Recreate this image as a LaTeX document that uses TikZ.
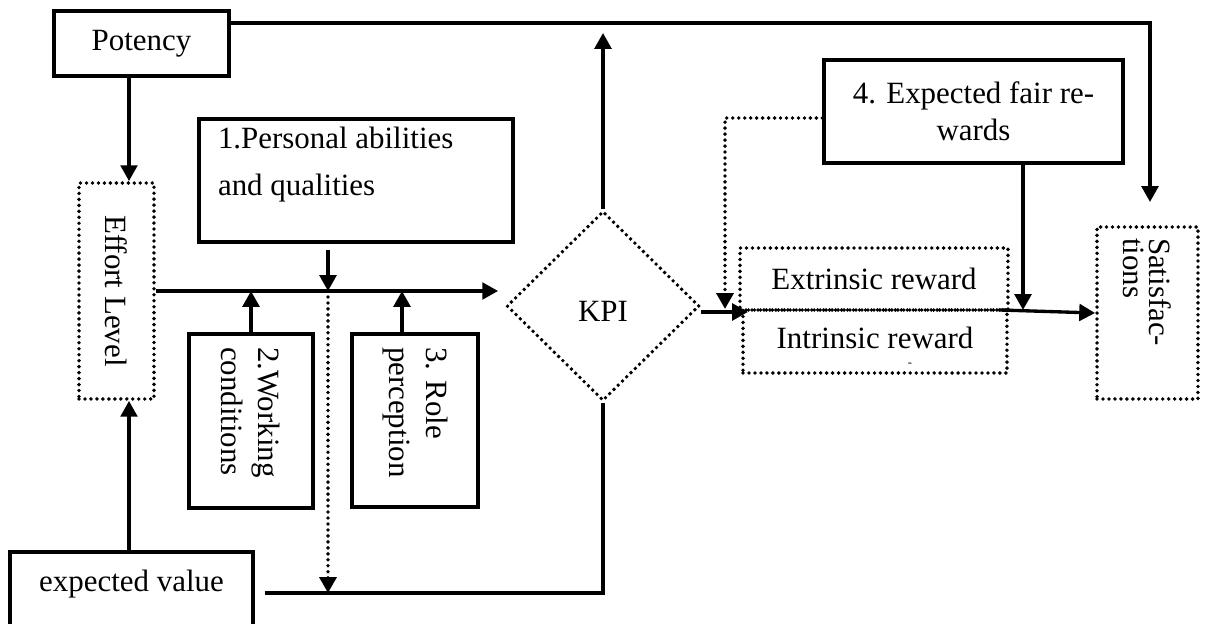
\documentclass[tikz,border=0pt]{standalone}
\usepackage{fontspec}
\setmainfont{Liberation Serif}
\usepackage{graphicx}
\usetikzlibrary{arrows.meta,shapes.geometric}

\newcommand{\vlabel}[2]{\rotatebox{-90}{\parbox{#1}{\raggedright #2}}}

\begin{document}
\begin{tikzpicture}[x=0.02cm,y=-0.02cm,
  >={Triangle[length=9pt,width=9.5pt]},
  every node/.style={font=\fontsize{17.6pt}{21pt}\selectfont, inner sep=0pt},
  solidbox/.style={draw, line width=1.9pt},
  dotline/.style={line width=2.2pt, dash pattern=on 0pt off 3.4pt, line cap=round},
  dotbox/.style={draw, dotline},
  line/.style={line width=1.9pt}]
  \useasboundingbox (0,0) rectangle (1205,624);

  \node[solidbox, minimum width=3.5cm, minimum height=1.3cm] (pot) at (141.5,43.5) {Potency};
  \node[dotbox, minimum width=1.5cm, minimum height=4.32cm] (eff) at (116.5,291) {\rotatebox{-90}{Effort Level}};
  \node[solidbox, minimum width=6.28cm, minimum height=2.46cm] (pers) at (356,180.5)
    {\parbox[c][2.14cm][t]{5.52cm}{\fontsize{17.6pt}{26.7pt}\selectfont\raggedright 1.Personal abilities\\and qualities}};
  \node[solidbox, minimum width=2.48cm, minimum height=3.48cm] (work) at (251,421) {\vlabel{2.96cm}{2.Working\\conditions}};
  \node[solidbox, minimum width=2.52cm, minimum height=3.46cm] (role) at (415,420.5) {\vlabel{2.94cm}{3. Role\\perception}};
  \node[solidbox, minimum width=4.86cm, minimum height=1.6cm, text height=0.4cm, text depth=0.4cm] (ev) at (131.5,592) {expected value};
  \node[dotbox, shape=diamond, minimum width=3.86cm, minimum height=3.8cm, text height=0.64cm] (kpi) at (603,306) {KPI};
  \node[dotbox, minimum width=5.36cm, minimum height=1.24cm] (ext) at (874,279) {Extrinsic reward};
  \node[dotbox, minimum width=5.28cm, minimum height=1.26cm, text depth=0.16cm] (int) at (875,341.5) {Intrinsic reward};
  \node[font=\fontsize{7pt}{7pt}\selectfont] (dash) at (910,365) {-};
  \node[solidbox, minimum width=5.98cm, minimum height=2.06cm, align=center] (fair) at (973.5,111.5) {4. Expected fair re-\\wards};
  \node[dotbox, minimum width=2.02cm, minimum height=3.44cm] (sat) at (1147.5,313)
    {\vlabel{3cm}{\fontsize{17.6pt}{14.7pt}\selectfont Satisfac-\\tions}};

  \coordinate (top) at (0,23);
  \coordinate (ax) at (129,0);
  \coordinate (mx) at (328,0);
  \coordinate (rx) at (402,0);
  \coordinate (fx) at (1023,0);
  \coordinate (bot) at (0,593);
  \coordinate (satin) at (1150,202);
  \coordinate (rin) at (748,312);
  \coordinate (fd) at (725,309);
  \coordinate (rout) at (1000,310);

  \draw[line,->] (pot.east |- top) -| (satin);
  \draw[line,->,shorten >=0.2cm] (kpi.north) -- (kpi.north |- top);
  \draw[line,->] (pot.south -| ax) -- (eff.north -| ax);
  \draw[line,->] (ev.north -| ax) -- (eff.south -| ax);
  \draw[line,->,shorten >=0.13cm] (eff.east) -- (kpi.west |- eff.east);
  \draw[line,->,shorten <=0.12cm] (mx |- pers.south) -- (mx |- eff.east);
  \draw[line,->] (work.north) -- (work.north |- eff.east);
  \draw[line,->] (role.north -| rx) -- (rx |- eff.east);
  \draw[dotline,->] (mx |- eff.east) -- (mx |- bot);
  \draw[line,shorten <=0.2cm] (ev.east |- bot) -| (kpi.south);
  \draw[line,->] (kpi.east |- rin) -- (rin);
  \draw[dotline,->] ([yshift=-0.13cm]fair.west) -| (fd);
  \draw[line,->] (fair.south -| fx) -- (fx |- rout);
  \draw[line,->] (rout) -- (sat.west);
\end{tikzpicture}
\end{document}
